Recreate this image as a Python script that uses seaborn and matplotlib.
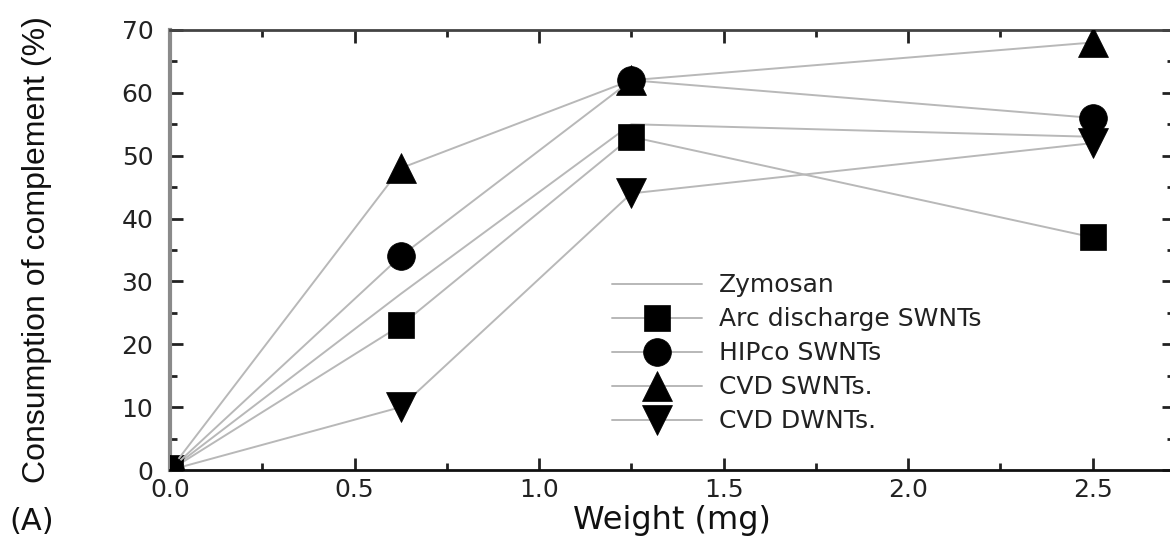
import matplotlib
matplotlib.use("Agg")
import matplotlib.pyplot as plt
import seaborn as sns
import pandas as pd
from matplotlib.ticker import MultipleLocator

# ---- data ----
weight = [0.0, 0.625, 1.25, 2.5]
zymosan = [0, 28, 55, 53]
arc_swnt = [0, 23, 53, 37]
hipco_swnt = [0, 34, 62, 56]
cvd_swnt = [0, 48, 62, 68]
cvd_dwnt = [0, 10, 44, 52]

series_names = ["Zymosan", "Arc discharge SWNTs", "HIPco SWNTs",
                "CVD SWNTs.", "CVD DWNTs."]
series_values = [zymosan, arc_swnt, hipco_swnt, cvd_swnt, cvd_dwnt]

x_ticks = [0.0, 0.5, 1.0, 1.5, 2.0, 2.5]
y_ticks = [0, 10, 20, 30, 40, 50, 60, 70]

# ---- style ----
sns.set_style("white")
plt.rcParams["font.family"] = ["DejaVu Sans"]

markers = [None, "s", "o", "^", "v"]
msizes = [0, 19, 20, 22, 22]
zorders = [2, 3, 5, 4, 3]
line_color = "#b8b8b8"

fig = plt.figure(figsize=(11.70, 5.44), dpi=100)
ax = fig.add_axes([0.1453, 0.136, 0.858, 0.809])

for name, vals, m, ms, z in zip(series_names, series_values, markers, msizes, zorders):
    df = pd.DataFrame({"w": weight, "c": vals})
    kw = dict(color=line_color, linewidth=1.4, label=name, zorder=z)
    if m is not None:
        kw.update(marker=m, markersize=ms, markerfacecolor="black",
                  markeredgecolor="black", markeredgewidth=0.5)
    sns.lineplot(data=df, x="w", y="c", ax=ax, sort=False, **kw)

ax.set_xlim(0, 2.72)
ax.set_ylim(0, 70)
ax.set_xticks(x_ticks)
ax.set_xticklabels([f"{t:.1f}" for t in x_ticks])
ax.set_yticks(y_ticks)
ax.set_yticklabels([str(t) for t in y_ticks])
ax.xaxis.set_minor_locator(MultipleLocator(0.25))
ax.yaxis.set_minor_locator(MultipleLocator(5))

ax.tick_params(which="both", direction="in", top=True, right=True,
               bottom=True, left=True, colors="#222222")
ax.tick_params(which="major", length=9, width=2, labelsize=18, pad=6)
ax.tick_params(which="minor", length=5, width=2)
ax.tick_params(axis="y", which="major", pad=12)
for lab in ax.get_xticklabels() + ax.get_yticklabels():
    lab.set_color("#222222")

ax.spines["left"].set_color("#8a8a8a")
ax.spines["left"].set_linewidth(3)
ax.spines["bottom"].set_color("#111111")
ax.spines["bottom"].set_linewidth(2)
ax.spines["top"].set_color("#444444")
ax.spines["top"].set_linewidth(2)
ax.spines["right"].set_visible(False)

ax.set_xlabel("Weight (mg)", fontsize=23, labelpad=2, color="#111111")
ax.set_ylabel("Consumption of complement (%)", fontsize=23, labelpad=50,
              color="#111111", family=["Liberation Sans", "DejaVu Sans"])

leg = ax.legend(loc="upper left", bbox_to_anchor=(0.44, 0.447), frameon=False,
                fontsize=18, handlelength=3.6, handletextpad=0.7,
                labelspacing=0.4, borderaxespad=0, borderpad=0)
for t in leg.get_texts():
    t.set_color("#222222")

fig.text(0.008, 0.025, "(A)", fontsize=22, color="#111111")

fig.savefig("out.png", dpi=100)
